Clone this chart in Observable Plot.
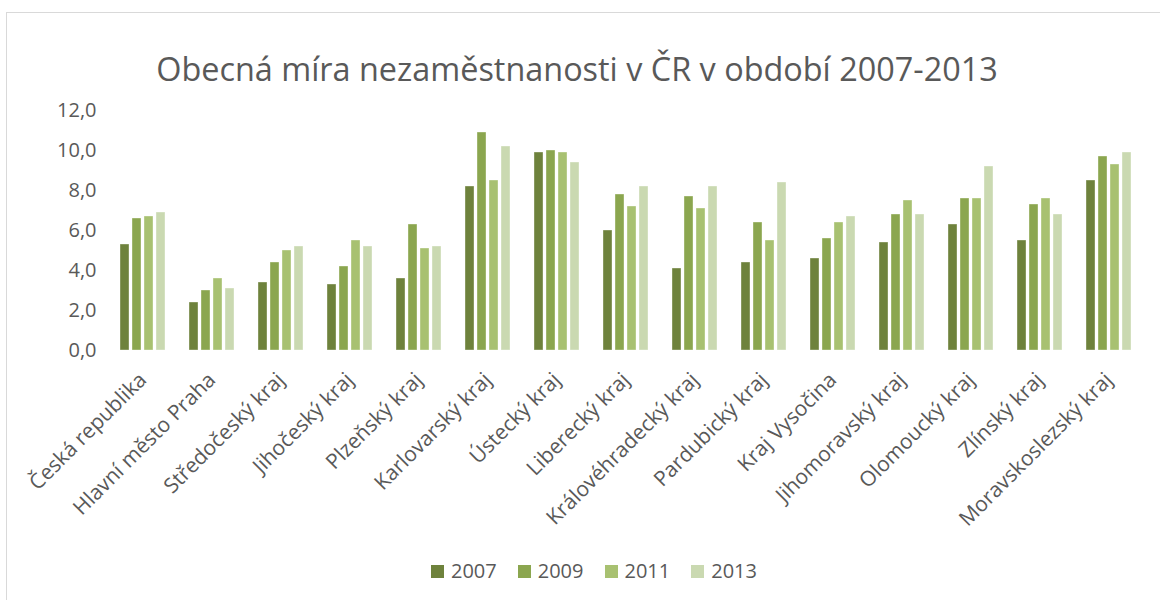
<!DOCTYPE html>
<html>
<head>
<meta charset="utf-8">
<script src="https://cdn.jsdelivr.net/npm/d3@7"></script>
<script src="https://cdn.jsdelivr.net/npm/@observablehq/plot@0.6"></script>
<style>
  body { margin: 0; background: #fff; font-family: "Open Sans", sans-serif; }
  #wrap { position: relative; width: 1160px; height: 600px; overflow: hidden; }
  #frame { position: absolute; left: 6px; top: 12px; width: 1170px; height: 600px; border: 1px solid #d9d9d9; box-sizing: border-box; }
  #title { position: absolute; left: 0; width: 1154px; top: 46px; text-align: center; font-size: 32.4px; line-height: 44px; color: #595959; white-space: nowrap; }
  #chart { position: absolute; left: 0; top: 95px; }
  #legend { position: absolute; top: 557px; left: 0; width: 1188px; display: flex; justify-content: center; gap: 21px; font-size: 20px; line-height: 28px; color: #595959; }
  #legend span.item { display: inline-flex; align-items: center; gap: 7px; }
  #legend span.sw { width: 13px; height: 13px; display: inline-block; }
</style>
</head>
<body>
<div id="wrap">
  <div id="frame"></div>
  <div id="title">Obecná míra nezaměstnanosti v ČR v období 2007-2013</div>
  <div id="chart"></div>
  <div id="legend"></div>
</div>
<script>
const regions = ["Česká republika","Hlavní město Praha","Středočeský kraj","Jihočeský kraj","Plzeňský kraj","Karlovarský kraj","Ústecký kraj","Liberecký kraj","Královéhradecký kraj","Pardubický kraj","Kraj Vysočina","Jihomoravský kraj","Olomoucký kraj","Zlínský kraj","Moravskoslezský kraj"];
const years = ["2007","2009","2011","2013"];
const v2007 = [5.3, 2.4, 3.4, 3.3, 3.6, 8.2, 9.9, 6.0, 4.1, 4.4, 4.6, 5.4, 6.3, 5.5, 8.5];
const v2009 = [6.6, 3.0, 4.4, 4.2, 6.3, 10.9, 10.0, 7.8, 7.7, 6.4, 5.6, 6.8, 7.6, 7.3, 9.7];
const v2011 = [6.7, 3.6, 5.0, 5.5, 5.1, 8.5, 9.9, 7.2, 7.1, 5.5, 6.4, 7.5, 7.6, 7.6, 9.3];
const v2013 = [6.9, 3.1, 5.2, 5.2, 5.2, 10.2, 9.4, 8.2, 8.2, 8.4, 6.7, 6.8, 9.2, 6.8, 9.9];
const yTicks = [0, 2, 4, 6, 8, 10, 12];
const colors = ["#6e823c", "#8ba64f", "#a8c171", "#cad9b1"];

const series = [v2007, v2009, v2011, v2013];
const data = [];
regions.forEach((r, i) => years.forEach((y, j) => data.push({region: r, year: y, value: series[j][i]})));

const fmt = d => d.toFixed(1).replace(".", ",");

const plot = Plot.plot({
  width: 1160,
  height: 445,
  marginTop: 15,
  marginBottom: 190,
  marginLeft: 107,
  marginRight: 17,
  style: {fontFamily: "'Open Sans', sans-serif", fontSize: "20px", color: "#595959", background: "transparent"},
  fx: {domain: regions, paddingInner: 0.321, paddingOuter: 0.164, label: null},
  x: {domain: years, paddingInner: 0.25, paddingOuter: 0, axis: null},
  y: {domain: [0, 12], ticks: yTicks, tickFormat: fmt, label: null},
  color: {domain: years, range: colors},
  marks: [
    Plot.gridY(yTicks, {stroke: "#d9d9d9", strokeOpacity: 1, strokeWidth: 1.5, x1: 107, x2: 1143, facetAnchor: null}),
    Plot.axisY(yTicks, {tickFormat: fmt, tickSize: 0, tickPadding: 23, fontSize: 20, fill: "#595959", label: null}),
    Plot.axisFx({tickRotate: -45, tickSize: 0, tickPadding: 26, dx: 0, fontSize: 21, fill: "#595959", label: null, anchor: "bottom"}),
    Plot.barY(data, {fx: "region", x: "year", y: "value", fill: "year", stroke: "white", strokeWidth: 0.6, strokeOpacity: 0.6})
  ]
});
document.getElementById("chart").appendChild(plot);

const legend = document.getElementById("legend");
years.forEach((y, j) => {
  const it = document.createElement("span");
  it.className = "item";
  it.innerHTML = `<span class="sw" style="background:${colors[j]}"></span>${y}`;
  legend.appendChild(it);
});
</script>
</body>
</html>
